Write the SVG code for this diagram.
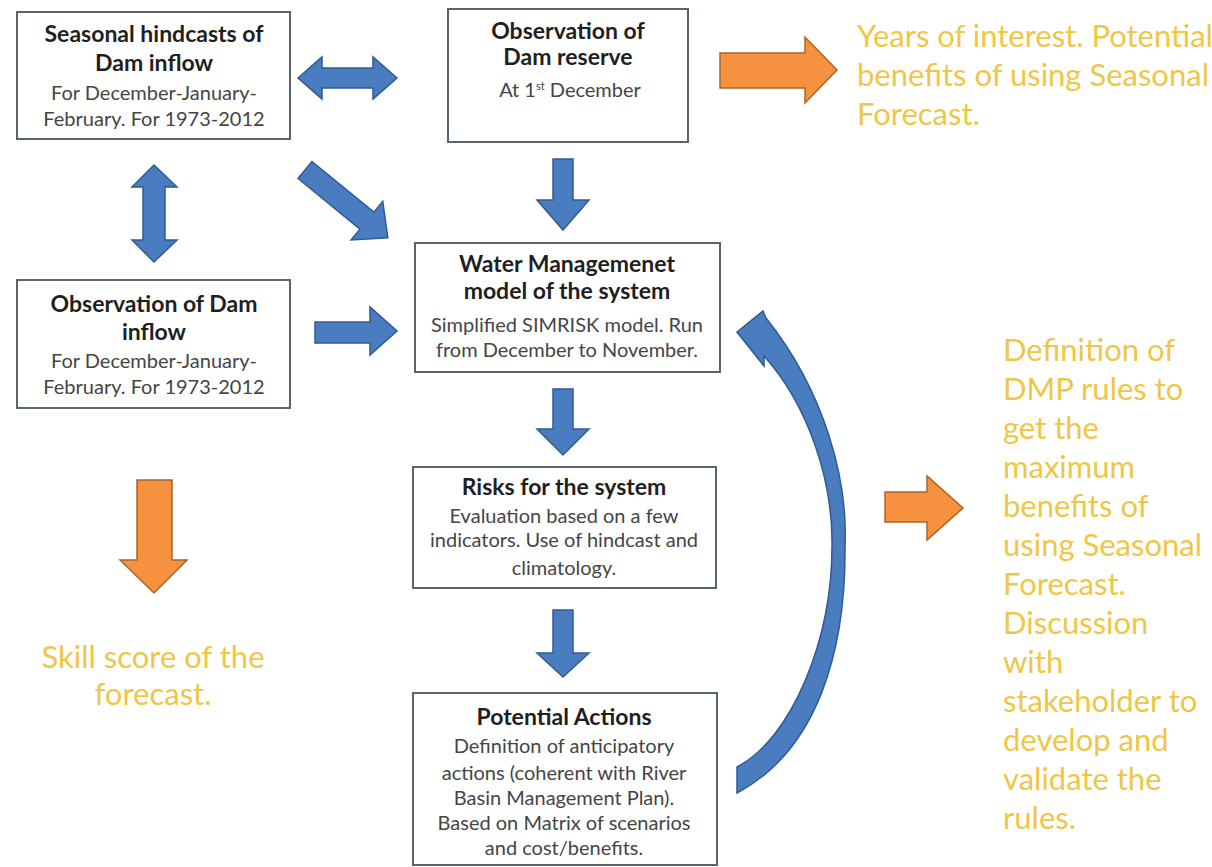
<svg xmlns="http://www.w3.org/2000/svg" width="1212" height="867" viewBox="0 0 1212 867">
<style>
.box{fill:#ffffff;stroke:#56656f;stroke-width:2}
.t{font-family:Lato,"Open Sans",sans-serif;font-weight:700;font-size:23px;fill:#1f1f1f;text-anchor:middle}
.s{font-family:Lato,"Open Sans",sans-serif;font-size:20px;fill:#454545;text-anchor:middle}
.o{font-family:Lato,"Open Sans",sans-serif;font-size:31px;fill:#EFC646}
.blue{fill:#4a7cc0;stroke:#2f5a96;stroke-width:1.5;stroke-linejoin:miter}
.orange{fill:#f5913f;stroke:#a9642c;stroke-width:1.5}
</style>
<rect width="1212" height="867" fill="#ffffff"/>
<g id="connectors">
<polygon class="blue" points="298,78 322,57 322,68 373,68 373,57 397,78 373,99 373,88 322,88 322,99"/>
<polygon class="blue" points="154,165 177,187 165,187 165,240 177,240 154,262 132,240 143,240 143,187 132,187"/>
<polygon class="blue" transform="translate(305,170) rotate(39.3)" points="0,-11 80,-11 80,-25 107,0 80,25 80,11 0,11"/>
<polygon class="blue" points="553,159 573,159 573,200 589,200 563,230 537,200 553,200"/>
<polygon class="blue" points="315,322 370,322 370,307 397,331 370,355 370,343 315,343"/>
<polygon class="blue" points="553,389 573,389 573,429 589,429 563,455 537,429 553,429"/>
<polygon class="blue" points="553,610 573,610 573,653 589,653 563,677 537,653 553,653"/>
<path class="blue" d="M737,332 L763,311 L766,318 C825,392 848,480 845,546 C846,650 818,750 737,793 L737,767 C792,738 832,640 832,546 C833,480 808,405 764,356 L764,366 Z"/>
<polygon class="orange" points="720,53 805,53 805,37 837,70 805,103 805,88 720,88"/>
<polygon class="orange" points="137,480 172,480 172,560 187,560 154,593 120,560 137,560"/>
<polygon class="orange" points="885,492 927,492 927,476 963,508 927,540 927,522 885,522"/>
</g>
<g id="seasonal-hindcasts">
<rect class="box" x="17" y="12" width="273" height="127"/>
<text class="t" x="154" y="42">Seasonal hindcasts of</text>
<text class="t" x="154" y="71">Dam inflow</text>
<text class="s" x="154" y="100">For December-January-</text>
<text class="s" x="154" y="126">February. For 1973-2012</text>
</g>
<g id="dam-reserve">
<rect class="box" x="448" y="9" width="240" height="133"/>
<text class="t" x="568" y="39">Observation of</text>
<text class="t" x="568" y="65">Dam reserve</text>
<text class="s" x="570" y="97" font-size="17">At 1<tspan font-size="11" dy="-7">st</tspan><tspan dy="7"> December</tspan></text>
</g>
<g id="obs-inflow">
<rect class="box" x="17" y="280" width="273" height="128"/>
<text class="t" x="154" y="312">Observation of Dam</text>
<text class="t" x="154" y="340">inflow</text>
<text class="s" x="154" y="368">For December-January-</text>
<text class="s" x="154" y="394">February. For 1973-2012</text>
</g>
<g id="water-model">
<rect class="box" x="415" y="243" width="305" height="129"/>
<text class="t" x="567" y="272">Water Managemenet</text>
<text class="t" x="567" y="299">model of the system</text>
<text class="s" x="567" y="332">Simplified SIMRISK model. Run</text>
<text class="s" x="567" y="357">from December to November.</text>
</g>
<g id="risks">
<rect class="box" x="413" y="467" width="303" height="121"/>
<text class="t" x="564" y="495">Risks for the system</text>
<text class="s" x="564" y="523">Evaluation based on a few</text>
<text class="s" x="564" y="547">indicators. Use of hindcast and</text>
<text class="s" x="564" y="575">climatology.</text>
</g>
<g id="actions">
<rect class="box" x="413" y="693" width="304" height="172"/>
<text class="t" x="564" y="725">Potential Actions</text>
<text class="s" x="564" y="753">Definition of anticipatory</text>
<text class="s" x="564" y="780">actions (coherent with River</text>
<text class="s" x="564" y="805">Basin Management Plan).</text>
<text class="s" x="564" y="830">Based on Matrix of scenarios</text>
<text class="s" x="564" y="855">and cost/benefits.</text>
</g>
<g id="years-of-interest">
<text class="o" x="857" y="47">Years of interest. Potential</text>
<text class="o" x="857" y="86">benefits of using Seasonal</text>
<text class="o" x="857" y="125">Forecast.</text>
</g>
<g id="skill-score">
<text class="o" x="153" y="668" text-anchor="middle">Skill score of the</text>
<text class="o" x="153" y="705" text-anchor="middle">forecast.</text>
</g>
<g id="dmp-rules">
<text class="o" x="1003" y="361">Definition of</text>
<text class="o" x="1003" y="400">DMP rules to</text>
<text class="o" x="1003" y="439">get the</text>
<text class="o" x="1003" y="478">maximum</text>
<text class="o" x="1003" y="517">benefits of</text>
<text class="o" x="1003" y="556">using Seasonal</text>
<text class="o" x="1003" y="595">Forecast.</text>
<text class="o" x="1003" y="634">Discussion</text>
<text class="o" x="1003" y="673">with</text>
<text class="o" x="1003" y="712">stakeholder to</text>
<text class="o" x="1003" y="751">develop and</text>
<text class="o" x="1003" y="790">validate the</text>
<text class="o" x="1003" y="829">rules.</text>
</g>
</svg>
